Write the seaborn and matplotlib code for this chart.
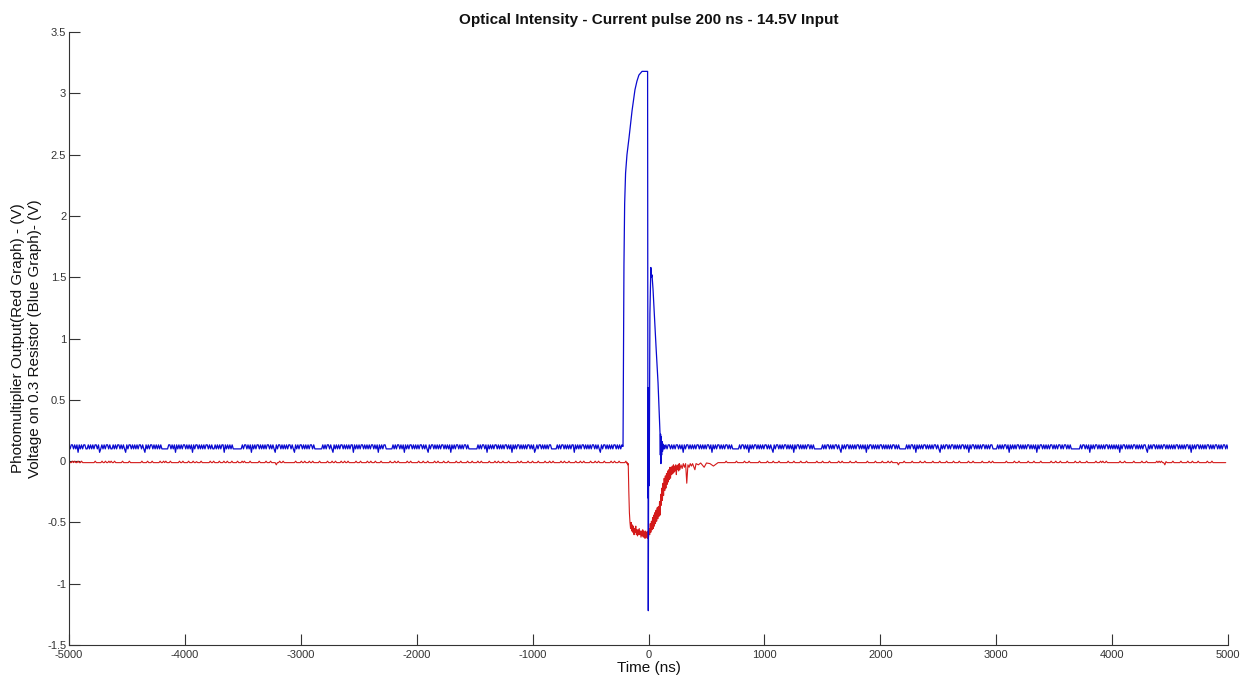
import numpy as np
import pandas as pd
import matplotlib
matplotlib.use("Agg")
import matplotlib.pyplot as plt
import seaborn as sns

# ---------------- data ----------------
title = "Optical Intensity - Current pulse 200 ns - 14.5V Input"
xlabel = "Time (ns)"
ylabel = "Photomultiplier Output(Red Graph) - (V)\nVoltage on 0.3 Resistor (Blue Graph)- (V)"

x_ticks = [-5000, -4000, -3000, -2000, -1000, 0, 1000, 2000, 3000, 4000, 5000]
y_ticks = [-1.5, -1, -0.5, 0, 0.5, 1, 1.5, 2, 2.5, 3, 3.5]
y_ticklabels = ["-1.5", "-1", "-0.5", "0", "0.5", "1", "1.5", "2", "2.5", "3", "3.5"]

# baseline level codes (scope quantisation levels)
blue_levels = {"_": 0.100, "^": 0.133, "v": 0.072}
red_levels = {"-": -0.012, "+": 0.000, "o": -0.004, "v": -0.030}

# blue baseline before the pulse (-5000 .. -230 ns)
blue_pre = (
    "^_^^_^_^v^_^_^^__^_^_^_^^_^v_^_^_^^_^__^_^_^^_^_"
    "^_v^_^^_^_^_^_^^_^_v^_^_^^_^_^_^_^______^^_^_^v^_"
    "^_^_^^_^_^_^v^_^^_^_^_^_^^_^_^__^_^_^_^^v^_^_^_^_"
    "_______^_^^_^_^v^_^_^^_^_^_^_^^_^_^_v^_^^_^_^_^_^"
    "^_^_v^_^_^^_^_^_^_^^_^_______^_^_^^_^_v^_^_^_^^_^"
    "_^_^_^^v^_^_^_^^_^_^_^_^^_^_^v^_^_^^______^_^_^^_"
    "^_^v^_^_^^_^_^_^_^^_^_^_v^_^^_^_^_^_^^_^_^_^v^_^_"
    "^^_^_^_^^_^________^_^_^^_^v^_^_^_^^_^_^_^_^^_^_^"
    "v^_^_^^_^_^_^_^^_^_^v_^_^^_^_^_^_^^_____^_^_^^_^_"
    "^_^_^^v^_^_^_^^_^_^_^_^^_^_^_v^_^^_^_^_^_^^_^_^_^"
)
blue_pre_span = (-5000, -230)

# blue pulse region
blue_pulse_t = [-225, -220, -216, -212, -206, -198, -186, -168, -142, -117, -100,
                -83, -56, -8, -5, -4, -3, -2, 0, 2, 6, 12, 20, 25, 30, 39, 50,
                65, 82, 92, 99, 102, 104, 107, 110, 113, 117, 121, 125, 130, 135]
blue_pulse_v = [0.125, 0.12, 0.9, 1.6, 2.1, 2.35, 2.5, 2.64, 2.86, 3.03, 3.1,
                3.15, 3.18, 3.18, -0.3, 0.6, -0.32, -1.22, -0.3, 0.4, -0.2, 1.2, 1.58, 1.5, 1.52, 1.40, 1.2,
                0.93, 0.64, 0.40, 0.23, 0.05, 0.22, -0.02, 0.2, 0.05, 0.16, 0.08, 0.14, 0.10, 0.13]

# blue baseline after the pulse (140 .. 5000 ns)
blue_post = (
    "_^_^^_^_^_^^_^_^v^_^^_^_^_^_^^_^_^_^_^^_^v^_^_^^_"
    "^_^_^^_^_^______^_^^_^_^v^_^_^^_^_^_^_^^_^_^_v^_^"
    "^_^_^_^^_^_^_^v^_^^_^_^_^_^^_^_^_______^_^_^^_^_^"
    "_^^_^_v^_^_^^_^_^_^_^^_^_^_^v^_^^_^_^_^_^^_^_^_^_"
    "^_^^_^_^______^_^_^^_^v^_^_^_^^_^_^_^_^^_^_v^_^_^"
    "^_^_^^_^_^_^_^^_^_^v^_^^_^_^_^_^^_^_^_^^____^_^_^"
    "_^^_^v^_^_^_^^_^_^_^_^^_^_^_^v^_^^_^_^_^_^^_^_^_^"
    "^_^_^^_^_^________^_^^_^_^v^_^_^^_^_^_^_^^_^_^_^_"
    "^_^v^_^^_^_^_^_^^_^_^_^_^^_v^_^_^^_^_^_^_^^_^_^_^"
    "_^_^^_^_^_^_^^_^v^_^_^^_^_^_^_^^_^_^_^^_^_^_^^_^_"
)
blue_post_span = (140, 5000)

# red baseline before the pulse (-5000 .. -195 ns)
red_pre = (
    "+--+-+--+--+-----------+-----+--+--+-+--+------+-"
    "----+----------+----+---+------+--+-+---+-------+"
    "--+----+---+--o---+-------+--+----+---+--+---+---"
    "-+---+-+----+-------+-----+---+----v--+--+-------"
    "---+----+--+---+--+-----+------+---+--+----+--+--"
    "+------+---+-----+--+---+----+-------+---+--+----"
    "---+--+------+---+---+-----+--+----+---+------+--"
    "-+-----+---+----+--+------+----+--+---+----+-----"
    "--+--+-----+---+----+-----+---+--+------+--+---+-"
    "----+---+--+-----+---+--+----+-----+--+---+-----+"
)
red_pre_span = (-5000, -195)

# red pulse region
red_pulse_t = [-190, -185, -180, -175, -170, -165, -160, -155, -150, -145, -140,
               -135, -130, -125, -120, -115, -110, -105, -100, -95, -90, -85,
               -80, -75, -70, -65, -60, -55, -50, -45, -40, -35, -30, -25, -20,
               -15, -10, -5, 0, 5, 10, 15, 20, 25, 30, 35, 40, 45, 50, 55, 60,
               65, 70, 75, 80, 85, 90, 95, 100, 105, 110, 115, 120, 125, 130,
               135, 140, 145, 150, 155, 160, 165, 170, 175, 180, 185, 190, 195,
               200, 205, 210, 215, 220, 225, 230, 235, 240, 245, 250, 255, 260,
               265, 270, 280, 290, 300, 310, 320, 330, 340, 350, 360, 370, 380,
               400, 410, 430, 450, 480, 500, 530, 560, 600]
red_pulse_v = [-0.015, -0.01, -0.03, -0.02, -0.25, -0.42, -0.50, -0.55, -0.50, -0.57, -0.52,
               -0.58, -0.53, -0.60, -0.55, -0.58, -0.53, -0.60, -0.56, -0.61, -0.56, -0.60,
               -0.55, -0.60, -0.57, -0.62, -0.57, -0.61, -0.56, -0.62, -0.57, -0.61, -0.63, -0.57, -0.62,
               -0.58, -0.63, -0.57, -0.62, -0.55, -0.60, -0.51, -0.58, -0.49, -0.56, -0.46, -0.55, -0.44, -0.53, -0.42, -0.51,
               -0.40, -0.49, -0.38, -0.47, -0.37, -0.45, -0.33, -0.44, -0.27, -0.36, -0.22, -0.32, -0.18, -0.28,
               -0.14, -0.24, -0.12, -0.22, -0.10, -0.19, -0.08, -0.17, -0.07, -0.15, -0.05, -0.14, -0.05,
               -0.11, -0.04, -0.10, -0.03, -0.09, -0.04, -0.08, -0.03, -0.11, -0.04, -0.07, -0.03, -0.08,
               -0.02, -0.07, -0.03, -0.06, -0.02, -0.05, -0.02, -0.18, -0.03, -0.05, -0.02, -0.04, -0.02,
               -0.07, -0.02, -0.03, -0.015, -0.05, -0.015, -0.02, -0.04, -0.012]

# red baseline after the pulse (620 .. 4980 ns)
red_post = (
    "-----+--------+------+---+--------+------+----+--"
    "--+-------+----+-----+----+--------+----+-----+--"
    "-----+--+------+----+---------+------+-----+----+"
    "--+-----v----+------+------+---+------+-----+----"
    "-+-----+----+-------+---+-------+-----+--+-------"
    "----+------+---+-------+----+-----+--------+---+-"
    "--+-----+------+---+-----+-------+---+-+--+------"
    "-----+---+-------+------+---+--------+-+-+--vo---"
    "--+------+-----+---+----+-------+---+------------"
)
red_post_span = (620, 4980)


def decode(codes, levels, span):
    vals = [levels[c] for c in codes]
    ts = np.linspace(span[0], span[1], len(vals))
    return list(ts), vals


bt1, bv1 = decode(blue_pre, blue_levels, blue_pre_span)
bt3, bv3 = decode(blue_post, blue_levels, blue_post_span)
blue_df = pd.DataFrame({"t": bt1 + blue_pulse_t + bt3,
                        "v": bv1 + blue_pulse_v + bv3})

rt1, rv1 = decode(red_pre, red_levels, red_pre_span)
rt3, rv3 = decode(red_post, red_levels, red_post_span)
red_df = pd.DataFrame({"t": rt1 + red_pulse_t + rt3,
                       "v": rv1 + red_pulse_v + rv3})

# ---------------- plotting ----------------
sns.set_theme(style="white")
plt.rcParams["font.family"] = ["Liberation Sans", "DejaVu Sans"]

fig = plt.figure(figsize=(12.48, 6.84), dpi=100)
ax = fig.add_axes([0.0553, 0.057, 0.9287, 0.896])

sns.lineplot(data=red_df, x="t", y="v", color="#d41a1a", lw=0.8,
             estimator=None, sort=False, ax=ax)
sns.lineplot(data=blue_df, x="t", y="v", color="#0a0ad0", lw=0.9,
             estimator=None, sort=False, ax=ax)

ax.set_xlim(-5000, 5000)
ax.set_ylim(-1.5, 3.5)
ax.set_xticks(x_ticks)
ax.set_xticklabels([str(v) for v in x_ticks])
ax.set_yticks(y_ticks)
ax.set_yticklabels(y_ticklabels)

for s in ["top", "right"]:
    ax.spines[s].set_visible(False)
for s in ["left", "bottom"]:
    ax.spines[s].set_color("#333333")
    ax.spines[s].set_linewidth(0.8)

ax.tick_params(axis="both", which="major", direction="in", length=8, width=0.8,
               color="#333333", labelsize=8, labelcolor="#333333",
               bottom=True, left=True, top=False, right=False)
ax.tick_params(axis="y", pad=2)
ax.tick_params(axis="x", pad=3.5)

ax.set_xlabel(xlabel, fontsize=11, labelpad=1, color="#111111")
ax.set_ylabel(ylabel, fontsize=11, labelpad=4, color="#111111")
ax.set_title(title, fontsize=11, fontweight="bold", pad=6, color="#111111")

fig.savefig("out.png", dpi=100)
